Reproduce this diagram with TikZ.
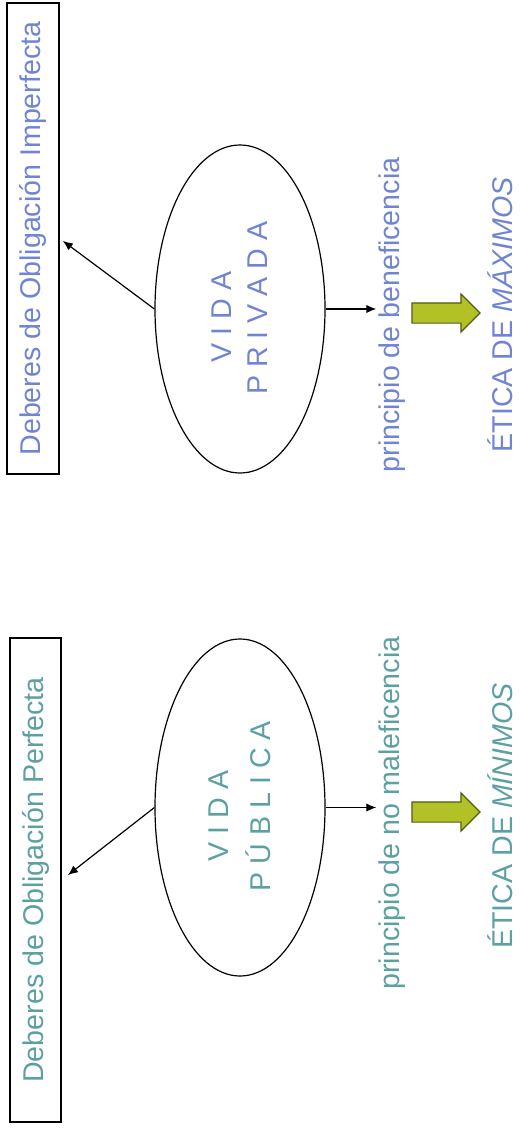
\documentclass[tikz,border=0pt]{standalone}
\usepackage{fontspec}
\setmainfont{Liberation Sans}
\usetikzlibrary{shapes.geometric,shapes.arrows,arrows.meta}
\definecolor{tealtxt}{RGB}{92,160,162}
\definecolor{bluetxt}{RGB}{112,132,210}
\definecolor{greenfill}{RGB}{178,194,38}
\definecolor{greenline}{RGB}{84,92,24}
\begin{document}
\begin{tikzpicture}[x=0.5pt,y=-0.5pt,
  font=\fontsize{14.3pt}{17pt}\selectfont,
  deber/.style={draw,line width=0.6pt,rotate=90,inner sep=0pt},
  vida/.style={draw,line width=0.6pt,ellipse,inner sep=0pt},
  txt/.style={rotate=90,inner sep=1pt},
  bigarrow/.style={single arrow,draw=greenline,fill=greenfill,line width=0.6pt,
    minimum height=34pt,single arrow head extend=4.5pt,inner xsep=0pt,inner ysep=4.75pt},
  link/.style={-{Latex[length=5pt,width=4.2pt]},line width=0.6pt}]
  \useasboundingbox (0,0) rectangle (519,1145);
  % vida privada
  \node[deber,minimum width=235.5pt,minimum height=26pt,text=bluetxt] (imp) at (33,238.5) {Deberes de Obligación Imperfecta};
  \node[vida,minimum width=85pt,minimum height=164pt] (priv) at (240,309) {};
  \node[txt,text=bluetxt] (vida2) at (222,317) {V I D A};
  \node[txt,text=bluetxt] (privada) at (258,308) {P R I V A D A};
  \node[txt,text=bluetxt] (benef) at (392,315) {principio de beneficencia};
  \node[bigarrow] (ga2) at (441,313) {};
  \node[txt,text=bluetxt] (maximos) at (500,315) {ÉTICA DE \textit{MÁXIMOS}};
  \draw[link,shorten >=2pt] (priv.west) -- (imp.south);
  \draw[link] (priv.east) -- (priv.east -| benef.north);
  % vida publica
  \node[deber,minimum width=242pt,minimum height=25.5pt,text=tealtxt] (perf) at (35.5,880) {Deberes de Obligación Perfecta};
  \node[vida,minimum width=85pt,minimum height=168.5pt] (pub) at (240,807.5) {};
  \node[txt,text=tealtxt] (vida1) at (219,816) {V I D A};
  \node[txt,text=tealtxt] (publica) at (258,806) {P Ú B L I C A};
  \node[txt,text=tealtxt] (nomal) at (392,813) {principio de no maleficencia};
  \node[bigarrow] (ga1) at (441,812) {};
  \node[txt,text=tealtxt] (minimos) at (500,816) {ÉTICA DE \textit{MÍNIMOS}};
  \draw[link,shorten >=4pt] (pub.west) -- (perf.south);
  \draw[link] (pub.east) -- (pub.east -| nomal.north);
\end{tikzpicture}
\end{document}
